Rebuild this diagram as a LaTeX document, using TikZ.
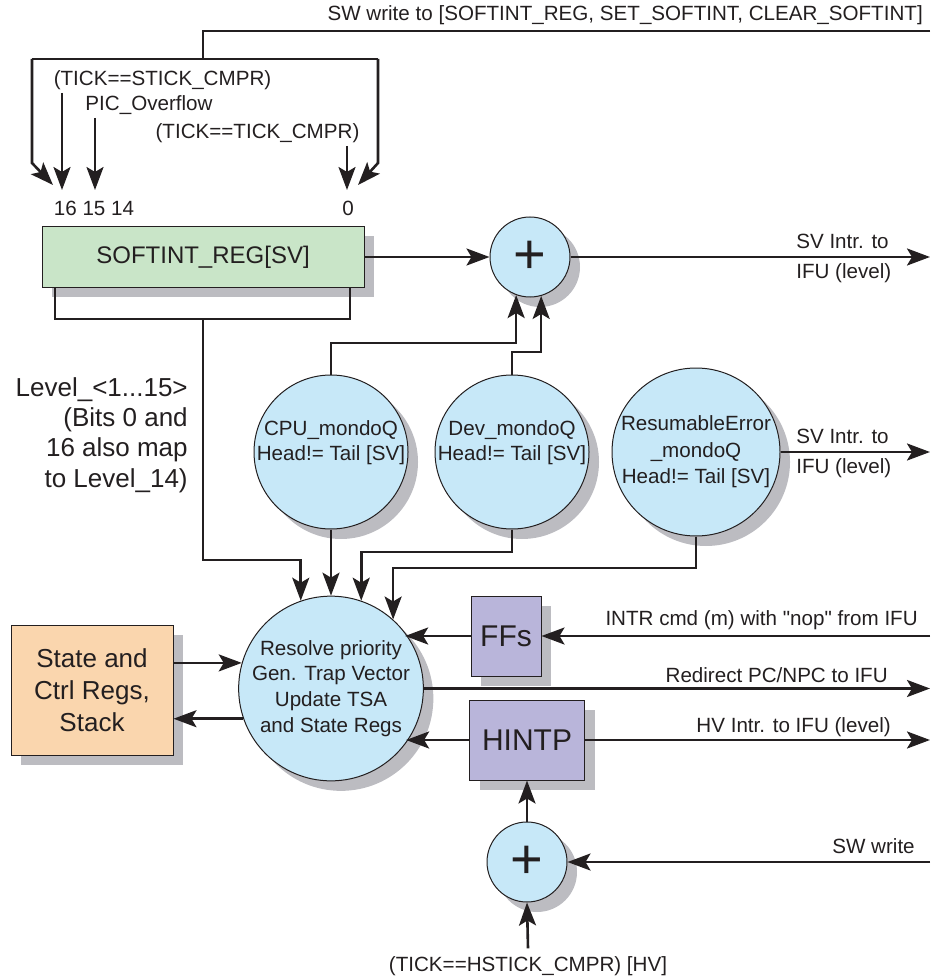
\documentclass[tikz,border=0pt]{standalone}
\usepackage{fontspec}
\setmainfont{Liberation Sans}
\usetikzlibrary{arrows.meta, shadows}
\definecolor{ink}{HTML}{231F20}
\definecolor{regmint}{HTML}{C9E5C8}
\definecolor{qblue}{HTML}{C7E8F8}
\definecolor{peach}{HTML}{FAD6AE}
\definecolor{lilac}{HTML}{B9B5DA}
\definecolor{shade}{HTML}{BCBCC1}

\begin{document}
\begin{tikzpicture}[x=0.5pt, y=-0.5pt, >={Stealth[length=11.5pt, width=8.5pt, inset=2.5pt]},
  line width=1.3pt, color=ink,
  lbl/.style={font=\fontsize{10.3}{15}\selectfont, inner sep=1pt},
  biglbl/.style={font=\fontsize{13}{15.2}\selectfont, inner sep=1pt},
  shadebox/.style={draw=ink, line width=0.5pt,
    drop shadow={shadow xshift=5pt, shadow yshift=-5pt, fill=shade, opacity=1}},
  qcircle/.style={circle, shadebox, fill=qblue, inner sep=0pt, align=center,
    font=\fontsize{10.3}{13.3}\selectfont},
  qtext/.style={align=center, inner sep=0pt, font=\fontsize{10.3}{12.6}\selectfont},
  adder/.style={qcircle, minimum size=40pt, font=\fontsize{28}{28}\selectfont}]

\useasboundingbox (0,0) rectangle (930,978);

% =========== SW write bracket (top) ===========
\node[lbl, anchor=east] (swtop) at (926,15) {SW write to [SOFTINT\_REG, SET\_SOFTINT, CLEAR\_SOFTINT]};
\coordinate (swin) at (930,31);
\coordinate (brL) at (32,59);
\coordinate (brR) at (378,59);
\draw (swin) -| (203,59);
\draw (brL) -- (brR);
\draw[->] (brL) -- (32,163) -- (53,185);
\draw[->] (brR) -- (378,163) -- (358,185);

% Timer / counter sources
\coordinate (b16) at (62,190);
\coordinate (b15) at (95,190);
\coordinate (b0) at (347,190);
\node[lbl] (stick) at (162.5,80) {(TICK==STICK\_CMPR)};
\node[lbl] (picov) at (149,105) {PIC\_Overflow};
\node[lbl] (tickc) at (257.5,133) {(TICK==TICK\_CMPR)};
\draw[->] (stick.south -| b16) -- (b16);
\draw[->] (picov.south -| b15) -- (b15);
\draw[->] (tickc.south -| b0) -- (b0);

% Bit numbers
\node[lbl] (bitshi) at (94,208) {16 15 14};
\node[lbl] (bitlo) at (348,208) {0};

% =========== SOFTINT register ===========
\node[shadebox, fill=regmint, minimum width=161pt, minimum height=30.5pt,
      font=\fontsize{12}{14}\selectfont] (softint) at (203,257) {SOFTINT\_REG[SV]};

% Adder for SV interrupts
\node[adder] (addsv) at (530,257) {+};
\coordinate (svoutA) at (930,257);
\draw[->] (softint.east) -- (addsv.west);
\draw[->] (addsv.east) -- (svoutA);
\node[lbl, anchor=west, align=left] (svlblA) at (793,258) {SV Intr. to\\IFU (level)};

% Level outputs
\coordinate (lvltop) at (203,319);
\draw (softint.south -| 55,0) |- (350,319) -- (softint.south -| 350,0);
\node[biglbl, anchor=east, align=right] (lvl) at (191,435)
  {Level\_<1...15>\\(Bits 0 and\\16 also map\\to Level\_14)};

% =========== Mondo queues ===========
\node[qcircle, minimum size=77pt,
      label={[qtext, yshift=4.5pt]center:{CPU\_mondoQ\\Head!= Tail [SV]}}] (cpu) at (331,452) {};
\node[qcircle, minimum size=77pt,
      label={[qtext, yshift=4.5pt]center:{Dev\_mondoQ\\Head!= Tail [SV]}}] (dev) at (512,452) {};
\node[qcircle, minimum size=84pt] (resm) at (696,452) {ResumableError\\\_mondoQ\\Head!= Tail [SV]};

\draw[->] (cpu.north) -- (cpu.north |- 0,343) -| (addsv.250);
\draw[->] (dev.north) -- (dev.north |- 0,352) -| (addsv.286);

\coordinate (svoutB) at (930,452);
\draw[->] (resm.east) -- (svoutB);
\node[lbl, anchor=west, align=left] (svlblB) at (793,453) {SV Intr. to\\IFU (level)};

% =========== Trap logic ===========
\node[qcircle, minimum size=87pt, font=\fontsize{10.3}{12.9}\selectfont] (res) at (331,688.5)
  {Resolve priority\\Gen. Trap Vector\\Update TSA\\and State Regs};

\draw[->] (lvltop) -- (203,560) -| (res.109);
\draw[->] (cpu.south) -- (res.north);
\draw[->] (dev.south) -- (dev.south |- 0,552) -| (res.71);
\draw[->] (resm.south) -- (resm.south |- 0,568) -| (res.48);

% State registers
\node[shadebox, fill=peach, minimum width=81pt, minimum height=65pt, align=center,
      font=\fontsize{13}{16}\selectfont] (state) at (92,690) {State and\\Ctrl Regs,\\Stack};
\draw[->] (state.east |- res.164) -- (res.164);
\draw[->] (res.199) -- (state.east |- res.199);

% FFs
\node[shadebox, fill=lilac, minimum width=35pt, minimum height=40pt,
      font=\fontsize{15}{15}\selectfont] (ffs) at (506,636) {FFs};
\coordinate (intrin) at (930,636);
\draw[->] (intrin) -- (ffs.east);
\draw[->] (ffs.west) -- (ffs.west -| res.37);
\node[lbl, anchor=east] (intrlbl) at (921,620) {INTR cmd (m) with \textquotedbl nop\textquotedbl\ from IFU};

% Redirect
\coordinate (redir) at (930,688.5);
\draw[->] (res.east) -- (redir);
\node[lbl, anchor=east] (redirlbl) at (891,675) {Redirect PC/NPC to IFU};

% HINTP
\node[shadebox, fill=lilac, minimum width=57.5pt, minimum height=40pt,
      font=\fontsize{15}{15}\selectfont] (hintp) at (527,740) {HINTP};
\coordinate (hvout) at (930,740);
\draw[->] (hintp.west) -- (hintp.west -| res.-36);
\draw[->] (hintp.east) -- (hvout);
\node[lbl, anchor=east] (hvlbl) at (894,727) {HV Intr. to IFU (level)};

% Adder for HV interrupts
\node[adder] (addhv) at (527,862) {+};
\draw[->] (addhv.north) -- (hintp.south);
\coordinate (swwr) at (930,862);
\draw[->] (swwr) -- (addhv.east);
\node[lbl, anchor=east] (swlbl) at (918,846) {SW write};
\node (hstick) [font=\fontsize{10.3}{15}\selectfont] at (528,966) {(TICK==HSTICK\_CMPR) [HV]};
\draw[->] (hstick.north) -- (addhv.south);

\end{tikzpicture}
\end{document}
